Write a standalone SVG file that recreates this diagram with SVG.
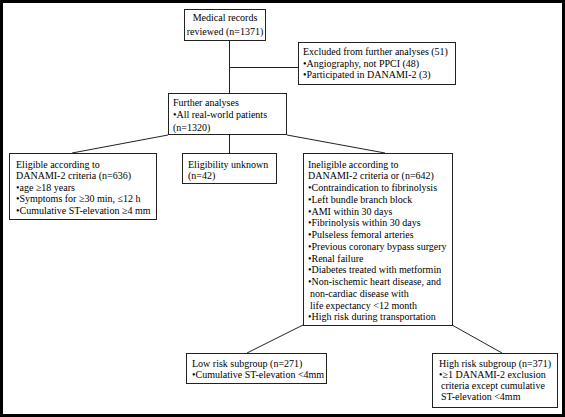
<svg xmlns="http://www.w3.org/2000/svg" width="565" height="417" viewBox="0 0 565 417">
<style>
.box{fill:#fff;stroke:#222;stroke-width:1}
.ln{stroke:#222;stroke-width:1;fill:none}
text{font-family:"Liberation Serif","Times New Roman",serif;font-size:10px;fill:#000}
</style>
<rect x="0" y="0" width="565" height="417" fill="#fff"/>
<rect x="1.5" y="1.5" width="562" height="414" fill="none" stroke="#000" stroke-width="3"/>
<g id="connectors">
<line class="ln" x1="229.5" y1="41" x2="229.5" y2="94"/>
<line class="ln" x1="229.5" y1="67.5" x2="298" y2="67.5"/>
<line class="ln" x1="168" y1="135" x2="72" y2="153"/>
<line class="ln" x1="229.5" y1="135" x2="229.5" y2="153"/>
<line class="ln" x1="287" y1="135" x2="385" y2="153"/>
<line class="ln" x1="303" y1="325" x2="247" y2="353"/>
<line class="ln" x1="452" y1="325" x2="502" y2="353"/>
</g>
<g id="medical">
<rect class="box" x="184.5" y="9.5" width="81" height="31"/>
<text x="225" y="21" text-anchor="middle">Medical records</text>
<text x="225" y="35" text-anchor="middle">reviewed (n=1371)</text>
</g>
<g id="excluded">
<rect class="box" x="298.5" y="42.5" width="157" height="42"/>
<text x="303" y="55">Excluded from further analyses (51)</text>
<text x="303" y="66.5">•Angiography, not PPCI (48)</text>
<text x="303" y="78">•Participated in DANAMI-2 (3)</text>
</g>
<g id="further">
<rect class="box" x="168.5" y="93.5" width="118" height="41"/>
<text x="173" y="105.5">Further analyses</text>
<text x="173" y="118">•All real-world patients</text>
<text x="173" y="130.5">(n=1320)</text>
</g>
<g id="eligible">
<rect class="box" x="9.5" y="153.5" width="147" height="66"/>
<text x="16" y="167.5">Eligible according to</text>
<text x="16" y="179">DANAMI-2 criteria (n=636)</text>
<text x="16" y="190.5">•age ≥18 years</text>
<text x="16" y="202">•Symptoms for ≥30 min, ≤12 h</text>
<text x="16" y="213.5">•Cumulative ST-elevation ≥4 mm</text>
</g>
<g id="unknown">
<rect class="box" x="182.5" y="153.5" width="94" height="30"/>
<text x="188" y="167.5">Eligibility unknown</text>
<text x="188" y="179">(n=42)</text>
</g>
<g id="ineligible">
<rect class="box" x="303.5" y="153.5" width="149" height="172"/>
<text x="308" y="167.5">Ineligible according to</text>
<text x="308" y="179.25">DANAMI-2 criteria or (n=642)</text>
<text x="308" y="191">•Contraindication to fibrinolysis</text>
<text x="308" y="202.75">•Left bundle branch block</text>
<text x="308" y="214.5">•AMI within 30 days</text>
<text x="308" y="226.25">•Fibrinolysis within 30 days</text>
<text x="308" y="238">•Pulseless femoral arteries</text>
<text x="308" y="249.75">•Previous coronary bypass surgery</text>
<text x="308" y="261.5">•Renal failure</text>
<text x="308" y="273.25">•Diabetes treated with metformin</text>
<text x="308" y="285">•Non-ischemic heart disease, and</text>
<text x="310" y="296.75">non-cardiac disease with</text>
<text x="310" y="308.5">life expectancy &lt;12 month</text>
<text x="308" y="320.25">•High risk during transportation</text>
</g>
<g id="lowrisk">
<rect class="box" x="186.5" y="353.5" width="140" height="30"/>
<text x="192" y="366.5">Low risk subgroup (n=271)</text>
<text x="192" y="378">•Cumulative ST-elevation &lt;4mm</text>
</g>
<g id="highrisk">
<rect class="box" x="432.5" y="353.5" width="125" height="54"/>
<text x="439" y="366.5">High risk subgroup (n=371)</text>
<text x="439" y="377.5">•≥1 DANAMI-2 exclusion</text>
<text x="441" y="388.5">criteria except cumulative</text>
<text x="441" y="399.5">ST-elevation &lt;4mm</text>
</g>
</svg>
